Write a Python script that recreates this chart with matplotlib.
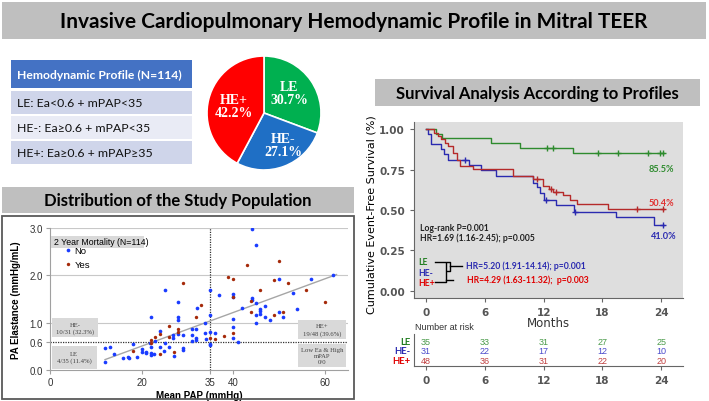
import numpy as np
import matplotlib
matplotlib.use("Agg")
import matplotlib.pyplot as plt
from matplotlib.patches import Rectangle

# ---------- DATA ----------
# pie / table
profile_names = ["LE", "HE-", "HE+"]
profile_share = [30.7, 27.1, 42.2]
profile_rules = ["LE: Ea<0.6 + mPAP<35", "HE-: Ea\u22650.6 + mPAP<35", "HE+: Ea\u22650.6 + mPAP\u226535"]

# scatter: mean PAP (mmHg) vs PA elastance (mmHg/mL), by 2 year mortality
no_pap = [12.1, 13.1, 12.0, 14.0, 16.0, 17.1, 18.0, 19.0, 20.1, 20.0, 20.9, 21.0, 22.0, 22.0, 21.9, 22.0,
          22.6, 23.0, 24.0, 24.0, 24.9, 25.0, 25.0, 26.0, 26.9, 26.9, 27.0, 28.0, 28.0, 28.0, 28.0, 29.0,
          29.0, 29.0, 22.1, 30.9, 31.0, 30.9, 32.0, 31.9, 31.9, 31.9, 33.9, 33.9, 34.0, 34.8, 34.9, 34.9,
          34.9, 34.9, 35.9, 36.9, 39.9, 39.9, 39.9, 39.9, 39.9, 40.9, 41.9, 44.0, 44.0, 44.0, 44.9, 44.9,
          44.9, 44.9, 45.9, 45.9, 45.9, 47.0, 47.0, 48.0, 49.9, 49.9, 50.9, 52.9, 53.9, 56.9, 61.8, 17.2]
no_ea = [0.47, 0.49, 0.17, 0.33, 0.25, 0.28, 0.54, 0.27, 0.45, 0.39, 0.37, 0.35, 0.35, 0.32, 0.56, 0.49,
         0.33, 0.62, 0.83, 0.49, 0.40, 1.68, 0.58, 0.49, 0.67, 0.74, 0.30, 1.43, 1.11, 1.06, 0.77, 0.74,
         0.46, 0.42, 1.11, 0.74, 0.86, 0.62, 1.30, 0.86, 0.67, 0.63, 1.00, 0.78, 0.66, 1.68, 1.17, 0.80,
         0.54, 0.52, 0.78, 1.59, 1.61, 1.54, 1.07, 0.90, 0.67, 0.60, 1.30, 2.98, 1.52, 1.48, 2.65, 1.41,
         1.16, 1.00, 1.29, 1.24, 1.19, 1.36, 1.12, 1.06, 1.93, 1.22, 1.12, 1.63, 1.28, 1.92, 2.01, 0.26]
yes_pap = [18.0, 22.0, 22.9, 24.0, 24.0, 26.0, 26.0, 27.0, 28.0, 28.0, 29.0, 31.9, 32.9, 34.9, 35.9, 37.9,
           38.9, 39.9, 39.9, 39.9, 42.9, 43.9, 43.9, 45.9, 48.9, 48.9, 49.9, 50.9, 51.9, 55.8, 59.9, 22.0]
yes_ea = [0.40, 0.63, 0.70, 0.77, 0.33, 0.94, 0.70, 0.37, 0.86, 0.80, 1.83, 1.13, 1.38, 0.67, 0.65, 0.71,
          1.97, 1.92, 1.54, 0.79, 2.22, 1.45, 1.23, 1.69, 1.90, 1.17, 2.31, 1.23, 1.83, 1.68, 1.44, 0.58]
quad_labels = ["HE-\n10/31 (32.3%)", "LE\n4/35 (11.4%)", "HE+\n19/48 (39.6%)", "Low Ea & High\nmPAP\n0/0"]

# Kaplan-Meier steps (months, survival)
le_t = [0, 1.0, 1.7, 6.6, 9.6, 15.0]
le_s = [1.0, 0.971, 0.943, 0.914, 0.886, 0.855]
le_cens = [12.3, 13.0, 17.5, 19.6, 22.6, 23.9, 24.2]
hem_t = [0, 0.2, 0.5, 1.6, 1.9, 2.3, 4.4, 5.6, 7.2, 10.9, 11.3, 11.6, 12.0, 13.3, 15.1, 19.4, 23.2]
hem_s = [1.0, 0.968, 0.906, 0.875, 0.844, 0.812, 0.781, 0.750, 0.712, 0.670, 0.640, 0.605, 0.565,
         0.528, 0.490, 0.455, 0.410]
hem_cens = [4.0, 12.2, 15.2, 24.2]
hep_t = [0, 0.8, 1.2, 1.5, 2.0, 2.3, 2.8, 3.2, 3.5, 4.8, 8.9, 10.9, 11.9, 12.5, 13.0, 14.0, 14.7, 15.4, 18.6]
hep_s = [1.0, 0.979, 0.958, 0.938, 0.917, 0.896, 0.854, 0.812, 0.771, 0.755, 0.712, 0.690, 0.650,
         0.630, 0.610, 0.590, 0.565, 0.538, 0.504]
hep_cens = [11.3, 12.8, 13.3, 21.5, 24.2]
t_end = 24.3
final_pct = ["85.5%", "41.0%", "50.4%"]

risk_times = [0, 6, 12, 18, 24]
risk_le = [35, 33, 31, 27, 25]
risk_hem = [31, 22, 17, 12, 10]
risk_hep = [48, 36, 31, 22, 20]

# ---------- LAYOUT HELPERS ----------
W, H = 709, 402
fig = plt.figure(figsize=(W / 100, H / 100), dpi=100)
fig.patch.set_facecolor("white")

def rect(x0, y0, x1, y1):
    return [x0 / W, 1 - y1 / H, (x1 - x0) / W, (y1 - y0) / H]

def box(x0, y0, x1, y1, color, ec="none", lw=0):
    fig.patches.append(Rectangle((x0 / W, 1 - y1 / H), (x1 - x0) / W, (y1 - y0) / H,
                                 transform=fig.transFigure, facecolor=color, edgecolor=ec, lw=lw))

def ftext(x, y, s, **kw):
    fig.text(x / W, 1 - y / H, s, **kw)

TITLE_FONT = "Lato"
NOTE_FONT = "Lato"

# ---------- HEADER ----------
box(2, 3, 706, 40, "#bfbfbf")
ftext(354, 22, "Invasive Cardiopulmonary Hemodynamic Profile in Mitral TEER", family=TITLE_FONT,
      weight="bold", size=15, ha="center", va="center")

# ---------- TABLE ----------
box(11, 61, 192, 89, "#4472c4")
ftext(17, 75, "Hemodynamic Profile (N=114)", family=TITLE_FONT, weight="bold", size=8.7,
      color="white", ha="left", va="center")
row_cols = ["#cfd5ea", "#e9ebf5", "#cfd5ea"]
for i, rule in enumerate(profile_rules):
    y0 = 92 + i * 25
    box(11, y0, 192, y0 + 23, row_cols[i])
    ftext(17, y0 + 11.5, rule, family=TITLE_FONT, size=8.9, color="#111111",
          ha="left", va="center")

# ---------- PIE ----------
pie_cols = ["#00b050", "#1f6fc5", "#ff0000"]
axp = fig.add_axes(rect(204, 54, 324, 174))
axp.pie(profile_share, colors=pie_cols, startangle=90, counterclock=False, radius=0.95,
        wedgeprops=dict(edgecolor="white", linewidth=1.2))
axp.set_xlim(-1, 1)
axp.set_ylim(-1, 1)
axp.set_aspect("equal")
lab_pos = [(0.42, 0.33), (0.32, -0.54), (-0.51, 0.12)]
for name, share, (lx, ly) in zip(profile_names, profile_share, lab_pos):
    axp.text(lx, ly, f"{name}\n{share:.1f}%", ha="center", va="center", color="white",
             family="Liberation Serif", weight="bold", size=10, linespacing=1.0)

# ---------- SCATTER PANEL ----------
box(2, 188, 354, 214, "#bfbfbf")
ftext(178, 201, "Distribution of the Study Population", family=TITLE_FONT, weight="bold", size=12,
      ha="center", va="center")
box(2, 217, 354, 400, "none", ec="#595959", lw=1.3)

axs = fig.add_axes(rect(50, 229, 348, 371))
axs.set_xlim(0, 65)
axs.set_ylim(0, 3.0)
for yg in [1.0, 2.0, 3.0]:
    axs.axhline(yg, color="#c8c8c8", lw=0.8, zorder=0)
axs.axhline(0.6, color="#333333", lw=0.9, ls=(0, (1, 1)), zorder=1)
axs.axvline(35, color="#333333", lw=0.9, ls=(0, (1, 1)), zorder=1)
all_pap = np.array(no_pap + yes_pap)
all_ea = np.array(no_ea + yes_ea)
k, b = np.polyfit(all_pap, all_ea, 1)
xs = np.array([12, 62.5])
axs.plot(xs, k * xs + b, color="#a6a6a6", lw=1.0, zorder=2)
axs.scatter(no_pap, no_ea, s=7, color="#1a3cff", zorder=3, linewidths=0)
axs.scatter(yes_pap, yes_ea, s=6, color="#a52a0a", zorder=3, linewidths=0)
for sp in ["top", "right"]:
    axs.spines[sp].set_visible(False)
for sp in ["left", "bottom"]:
    axs.spines[sp].set_color("#a0a0a0")
axs.set_xticks([0, 20, 35, 40, 60])
axs.set_yticks([0, 0.6, 1.0, 2.0, 3.0])
axs.set_yticklabels(["0.0", "0.6", "1.0", "2.0", "3.0"])
axs.tick_params(labelsize=7, colors="#a0a0a0", labelcolor="#333333", length=3, pad=2)
for lbl in axs.get_xticklabels() + axs.get_yticklabels():
    lbl.set_family("Liberation Sans")
axs.set_xlabel("Mean PAP (mmHg)", family="Liberation Sans", weight="bold", size=7, labelpad=2)
axs.set_ylabel("PA Elastance (mmHg/mL)", family="Liberation Sans", weight="bold", size=7, labelpad=6)

quad_boxes = [(0.4, 0.69, 10.5, 1.09), (0.4, 0.03, 10.2, 0.51), (54.2, 0.65, 64.6, 1.06), (54.2, 0.06, 64.6, 0.54)]
for (x0, y0, x1, y1), s in zip(quad_boxes, quad_labels):
    axs.add_patch(Rectangle((x0, y0), x1 - x0, y1 - y0, facecolor="#d9d9d9", edgecolor="none", zorder=4))
    axs.text((x0 + x1) / 2, (y0 + y1) / 2, s, ha="center", va="center", size=4.8, color="#404040",
             family="Liberation Serif", zorder=5, linespacing=1.3)

# legend
axs.add_patch(Rectangle((0.3, 2.58), 20.1, 0.26, facecolor="#d9d9d9", edgecolor="none", zorder=4))
axs.text(0.8, 2.71, "2 Year Mortality (N=114)", size=6.3, va="center", family="Liberation Sans", zorder=5)
axs.scatter([4.0], [2.53], s=7, color="#1a3cff", linewidths=0, zorder=5)
axs.text(5.3, 2.53, "No", size=6.8, va="center", family="Liberation Sans")
axs.scatter([4.0], [2.23], s=6, color="#a52a0a", linewidths=0, zorder=5)
axs.text(5.3, 2.23, "Yes", size=6.8, va="center", family="Liberation Sans")

# ---------- SURVIVAL PANEL ----------
box(375, 80, 700, 107, "#bfbfbf")
ftext(537, 93.5, "Survival Analysis According to Profiles", family=TITLE_FONT, weight="bold", size=12,
      ha="center", va="center")

km_cols = ["#2e8b2e", "#2a2ab0", "#b52a2a"]
axk = fig.add_axes(rect(414, 123, 683, 299))
axk.set_facecolor("#dedede")
curves = [(le_t, le_s, le_cens), (hem_t, hem_s, hem_cens), (hep_t, hep_s, hep_cens)]
for (t, s, cens), c in zip(curves, km_cols):
    tt = list(t) + [t_end]
    ss = list(s) + [s[-1]]
    axk.step(tt, ss, where="post", color=c, lw=1.0)
    cs = [ss[np.searchsorted(tt, ct, side="right") - 1] for ct in cens]
    axk.plot(cens, cs, "+", color=c, ms=4, mew=1.0)
axk.set_xlim(-1.2, 26.2)
axk.set_ylim(-0.045, 1.045)
axk.set_xticks(risk_times)
axk.set_yticks([0, 0.25, 0.5, 0.75, 1.0])
axk.set_yticklabels(["0.00", "0.25", "0.50", "0.75", "1.00"])
axk.tick_params(labelsize=7.5, colors="#666666", labelcolor="#555555", length=3)
for lbl in axk.get_xticklabels() + axk.get_yticklabels():
    lbl.set_weight("bold")
for sp in ["top", "right"]:
    axk.spines[sp].set_visible(False)
for sp in ["left", "bottom"]:
    axk.spines[sp].set_color("#666666")
axk.set_ylabel("Cumulative Event-Free Survival (%)", size=8)
axk.yaxis.set_label_coords(-0.14, 0.48)
axk.set_xlabel("Months", size=8.5, color="#333333")
axk.xaxis.set_label_coords(0.5, -0.1)

axk.text(24.0, 0.76, final_pct[0], color=km_cols[0], size=6.6, weight="bold", ha="center", va="center",
         family=NOTE_FONT)
axk.text(24.2, 0.34, final_pct[1], color=km_cols[1], size=6.6, weight="bold", ha="center", va="center",
         family=NOTE_FONT)
axk.text(24.0, 0.545, final_pct[2], color="#e03030", size=6.6, weight="bold", ha="center", va="center",
         family=NOTE_FONT)
axk.text(-0.6, 0.394, "Log-rank P=0.001", size=6.2, weight="bold", color="#222222", va="center",
         family=NOTE_FONT)
axk.text(-0.6, 0.332, "HR=1.69 (1.16-2.45); p=0.005", size=6.2, weight="bold", color="#222222",
         va="center", family=NOTE_FONT)
axk.text(-0.75, 0.18, "LE", size=6.2, weight="bold", color="#1e7b1e", va="center", family=NOTE_FONT)
axk.text(-0.75, 0.114, "HE-", size=6.2, weight="bold", color="#2a2ab0", va="center", family=NOTE_FONT)
axk.text(-0.75, 0.052, "HE+", size=6.2, weight="bold", color="#e00000", va="center", family=NOTE_FONT)
# brackets
bk = dict(color="black", lw=1.0)
axk.plot([0.95, 2.07, 2.07, 0.95], [0.18, 0.18, 0.052, 0.052], **bk)
axk.plot([2.07, 2.8], [0.066, 0.066], **bk)
axk.plot([2.2, 2.45, 2.45, 2.2], [0.175, 0.175, 0.12, 0.12], **bk)
axk.plot([2.45, 3.65], [0.155, 0.155], **bk)
axk.text(4.1, 0.155, "HR=5.20 (1.91-14.14); p=0.001", size=6.2, weight="bold", color="#2a2ab0",
         va="center", family=NOTE_FONT)
axk.text(4.2, 0.073, "HR=4.29 (1.63-11.32);  p=0.003", size=6.2, weight="bold", color="#e00000",
         va="center", family=NOTE_FONT)

# risk table
axr = fig.add_axes(rect(414, 335, 683, 367))
axr.set_xlim(-1.2, 26.2)
axr.set_ylim(0, 1)
axr.set_facecolor("white")
for sp in ["top", "right"]:
    axr.spines[sp].set_visible(False)
for sp in ["left", "bottom"]:
    axr.spines[sp].set_color("#666666")
axr.set_yticks([])
axr.set_xticks(risk_times)
axr.tick_params(labelsize=7.5, colors="#666666", labelcolor="#555555", length=3)
for lbl in axr.get_xticklabels():
    lbl.set_weight("bold")
row_y = [0.78, 0.47, 0.16]
num_cols = ["#4b9b4b", "#4a4acb", "#c04040"]
lab_cols = ["#1e7b1e", "#2a2ab0", "#e00000"]
for row, yv, nc, lc, nm in zip([risk_le, risk_hem, risk_hep], row_y, num_cols, lab_cols, profile_names):
    for tx, n in zip(risk_times, row):
        axr.text(tx, yv, str(n), color=nc, size=6.5, ha="center", va="center", family="Liberation Sans")
    axr.text(-1.6, yv, nm, color=lc, size=6.8, weight="bold", ha="right", va="center", family=NOTE_FONT)
ftext(415, 328, "Number at risk", size=6.5, color="#333333", ha="left", va="center",
      family="Liberation Sans")

fig.savefig("out.png", dpi=100)
